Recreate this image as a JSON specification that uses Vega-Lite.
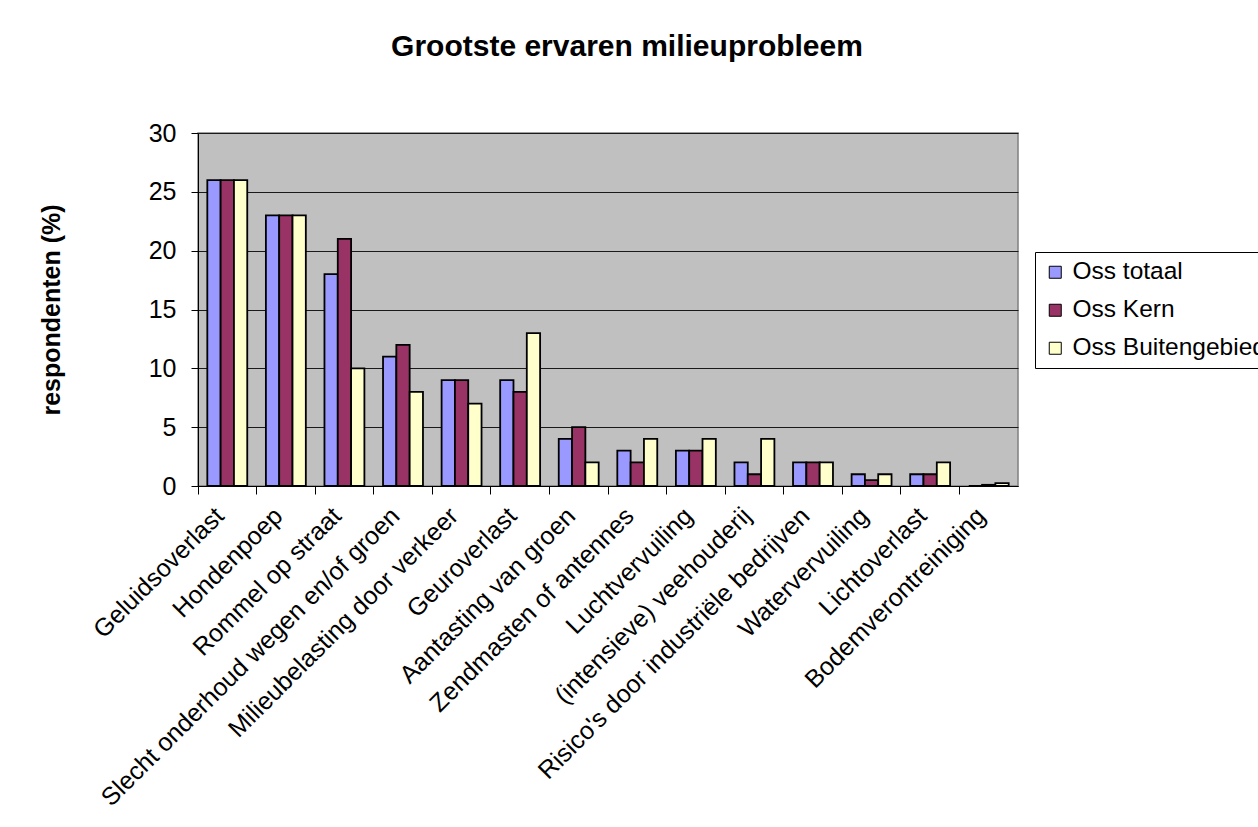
{
  "$schema": "https://vega.github.io/schema/vega-lite/v6.json",
  "autosize": "none",
  "padding": {"left": 198, "top": 133, "right": 240, "bottom": 341},
  "width": 820,
  "height": 353,
  "background": "white",
  "title": {
    "text": "Grootste ervaren milieuprobleem",
    "font": "Liberation Sans",
    "fontSize": 30,
    "fontWeight": "bold",
    "color": "black",
    "anchor": "middle",
    "dx": 19,
    "offset": 59
  },
  "data": {
    "values": [
      {"probleem": "Geluidsoverlast", "gebied": "Oss totaal", "pct": 26},
      {"probleem": "Geluidsoverlast", "gebied": "Oss Kern", "pct": 26},
      {"probleem": "Geluidsoverlast", "gebied": "Oss Buitengebied", "pct": 26},
      {"probleem": "Hondenpoep", "gebied": "Oss totaal", "pct": 23},
      {"probleem": "Hondenpoep", "gebied": "Oss Kern", "pct": 23},
      {"probleem": "Hondenpoep", "gebied": "Oss Buitengebied", "pct": 23},
      {"probleem": "Rommel op straat", "gebied": "Oss totaal", "pct": 18},
      {"probleem": "Rommel op straat", "gebied": "Oss Kern", "pct": 21},
      {"probleem": "Rommel op straat", "gebied": "Oss Buitengebied", "pct": 10},
      {"probleem": "Slecht onderhoud wegen en/of groen", "gebied": "Oss totaal", "pct": 11},
      {"probleem": "Slecht onderhoud wegen en/of groen", "gebied": "Oss Kern", "pct": 12},
      {"probleem": "Slecht onderhoud wegen en/of groen", "gebied": "Oss Buitengebied", "pct": 8},
      {"probleem": "Milieubelasting door verkeer", "gebied": "Oss totaal", "pct": 9},
      {"probleem": "Milieubelasting door verkeer", "gebied": "Oss Kern", "pct": 9},
      {"probleem": "Milieubelasting door verkeer", "gebied": "Oss Buitengebied", "pct": 7},
      {"probleem": "Geuroverlast", "gebied": "Oss totaal", "pct": 9},
      {"probleem": "Geuroverlast", "gebied": "Oss Kern", "pct": 8},
      {"probleem": "Geuroverlast", "gebied": "Oss Buitengebied", "pct": 13},
      {"probleem": "Aantasting van groen", "gebied": "Oss totaal", "pct": 4},
      {"probleem": "Aantasting van groen", "gebied": "Oss Kern", "pct": 5},
      {"probleem": "Aantasting van groen", "gebied": "Oss Buitengebied", "pct": 2},
      {"probleem": "Zendmasten of antennes", "gebied": "Oss totaal", "pct": 3},
      {"probleem": "Zendmasten of antennes", "gebied": "Oss Kern", "pct": 2},
      {"probleem": "Zendmasten of antennes", "gebied": "Oss Buitengebied", "pct": 4},
      {"probleem": "Luchtvervuiling", "gebied": "Oss totaal", "pct": 3},
      {"probleem": "Luchtvervuiling", "gebied": "Oss Kern", "pct": 3},
      {"probleem": "Luchtvervuiling", "gebied": "Oss Buitengebied", "pct": 4},
      {"probleem": "(intensieve) veehouderij", "gebied": "Oss totaal", "pct": 2},
      {"probleem": "(intensieve) veehouderij", "gebied": "Oss Kern", "pct": 1},
      {"probleem": "(intensieve) veehouderij", "gebied": "Oss Buitengebied", "pct": 4},
      {"probleem": "Risico's door industriële bedrijven", "gebied": "Oss totaal", "pct": 2},
      {"probleem": "Risico's door industriële bedrijven", "gebied": "Oss Kern", "pct": 2},
      {"probleem": "Risico's door industriële bedrijven", "gebied": "Oss Buitengebied", "pct": 2},
      {"probleem": "Watervervuiling", "gebied": "Oss totaal", "pct": 1},
      {"probleem": "Watervervuiling", "gebied": "Oss Kern", "pct": 0.5},
      {"probleem": "Watervervuiling", "gebied": "Oss Buitengebied", "pct": 1},
      {"probleem": "Lichtoverlast", "gebied": "Oss totaal", "pct": 1},
      {"probleem": "Lichtoverlast", "gebied": "Oss Kern", "pct": 1},
      {"probleem": "Lichtoverlast", "gebied": "Oss Buitengebied", "pct": 2},
      {"probleem": "Bodemverontreiniging", "gebied": "Oss totaal", "pct": 0},
      {"probleem": "Bodemverontreiniging", "gebied": "Oss Kern", "pct": 0.1},
      {"probleem": "Bodemverontreiniging", "gebied": "Oss Buitengebied", "pct": 0.25}
    ]
  },
  "mark": {"type": "bar", "stroke": "black", "strokeWidth": 1.8},
  "encoding": {
    "x": {
      "field": "probleem",
      "type": "nominal",
      "sort": null,
      "scale": {"paddingInner": 0, "paddingOuter": 0},
      "axis": {
        "title": null,
        "labelAngle": -45,
        "labelFont": "Liberation Sans",
        "labelFontSize": 25,
        "labelColor": "black",
        "labelPadding": 9,
        "labelOffset": -16,
        "labelLimit": 0,
        "bandPosition": 0,
        "tickColor": "black",
        "tickSize": 8,
        "domainColor": "black",
        "grid": false
      }
    },
    "xOffset": {
      "field": "gebied",
      "type": "nominal",
      "sort": ["Oss totaal", "Oss Kern", "Oss Buitengebied"],
      "scale": {"paddingInner": 0, "paddingOuter": 0.7}
    },
    "y": {
      "field": "pct",
      "type": "quantitative",
      "scale": {"domain": [0, 30], "nice": false},
      "axis": {
        "title": "respondenten (%)",
        "titleFont": "Liberation Sans",
        "titleFontSize": 25,
        "titleFontWeight": "bold",
        "titleColor": "black",
        "titlePadding": 84,
        "values": [0, 5, 10, 15, 20, 25, 30],
        "labelFont": "Liberation Sans",
        "labelFontSize": 25,
        "labelColor": "black",
        "labelPadding": 15,
        "tickColor": "black",
        "tickSize": 7,
        "domainColor": "black",
        "grid": true,
        "gridColor": "#1a1a1a",
        "gridWidth": 1
      }
    },
    "color": {
      "field": "gebied",
      "type": "nominal",
      "sort": ["Oss totaal", "Oss Kern", "Oss Buitengebied"],
      "scale": {
        "domain": ["Oss totaal", "Oss Kern", "Oss Buitengebied"],
        "range": ["#9999FF", "#993366", "#FFFFCC"]
      },
      "legend": {
        "title": null,
        "orient": "none",
        "legendX": 837,
        "legendY": 119,
        "strokeColor": "black",
        "fillColor": "white",
        "padding": 8,
        "symbolType": "square",
        "symbolSize": 144,
        "symbolStrokeColor": "black",
        "symbolStrokeWidth": 1,
        "labelFont": "Liberation Sans",
        "labelFontSize": 24.5,
        "labelColor": "black",
        "labelOffset": 5,
        "rowPadding": 13,
        "labelLimit": 0
      }
    }
  },
  "config": {
    "view": {"fill": "#C0C0C0", "stroke": "#808080", "strokeWidth": 1.5},
    "axis": {"gridOpacity": 1}
  }
}
